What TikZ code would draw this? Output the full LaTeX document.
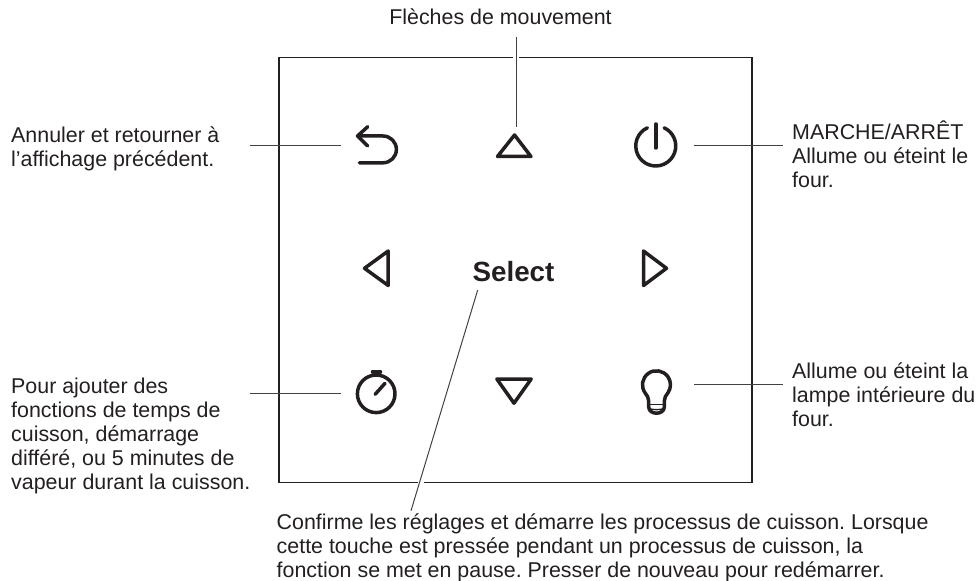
\documentclass[tikz,border=0pt]{standalone}
\usepackage{fontspec}
\setmainfont{Liberation Sans}
\definecolor{ink}{HTML}{231F20}
\newcommand{\tl}[1]{\begin{tabular}[t]{@{}l@{}}#1\end{tabular}}
\tikzset{
  px/.style={x=1bp,y=-1bp},
  frameline/.style={draw=ink,line width=1.2bp},
  leader/.style={draw=ink!85,line width=1bp},
  icon/.style={draw=ink,line width=3.5bp,line cap=round,line join=round},
  thinicon/.style={draw=ink,line width=1.4bp},
  lab/.style={font=\fontsize{21.4bp}{24bp}\selectfont\frenchspacing,text=ink,inner sep=0pt,anchor=base west}
}
\begin{document}
\begin{tikzpicture}[px]
\useasboundingbox (0,0) rectangle (977,581);
% frame with gaps where leaders cross
\coordinate (gapL) at (513.3,57.5);
\coordinate (gapR) at (518.7,57.5);
\coordinate (gapB1) at (417.5,482.5);
\coordinate (gapB2) at (423.5,482.5);
\draw[frameline] (gapL) -- (279,57.5) -- (279,482.5) -- (gapB1);
\draw[frameline] (gapB2) -- (752,482.5) -- (752,57.5) -- (gapR);
% labels
\node[lab,anchor=base] (t1) at (500.5,25) {Flèches de mouvement};
\node[lab] (t2) at (11,143) {\tl{Annuler et retourner à\\l’affichage précédent.}};
\node[lab] (t3) at (792,140) {\tl{MARCHE/ARRÊT\\Allume ou éteint le\\four.}};
\node[lab] (t4) at (11,393.5) {\tl{Pour ajouter des\\fonctions de temps de\\cuisson, démarrage\\différé, ou 5 minutes de\\vapeur durant la cuisson.}};
\node[lab] (t5) at (792,378.5) {\tl{Allume ou éteint la\\lampe intérieure du\\four.}};
\node[lab] (t6) at (276.5,529.5) {\tl{Confirme les réglages et démarre les processus de cuisson. Lorsque\\cette touche est pressée pendant un processus de cuisson, la\\fonction se met en pause. Presser de nouveau pour redémarrer.}};
\node[text=ink,inner sep=0pt,anchor=base,font=\fontsize{27.8bp}{30bp}\selectfont\bfseries] (sel) at (513.5,281.5) {Select};
% leader anchors
\coordinate (a1) at (516,36.7);
\coordinate (a2) at (516,126.7);
\coordinate (b1) at (250,145.5);
\coordinate (b2) at (340.7,145.5);
\coordinate (c1) at (694,145.5);
\coordinate (c2) at (783,145.5);
\coordinate (d1) at (250,393.5);
\coordinate (d2) at (340.7,393.5);
\coordinate (e1) at (694,384);
\coordinate (e2) at (783,384);
\coordinate (f1) at (477.7,290);
\coordinate (f2) at (411,510.7);
\draw[leader] (a1) -- (a2);
\draw[leader] (b1) -- (b2);
\draw[leader] (c1) -- (c2);
\draw[leader] (d1) -- (d2);
\draw[leader] (e1) -- (e2);
\draw[leader] (f1) -- (f2);
% triangles
\draw[icon] (514.5,135) -- (531,156.5) -- (497.5,156.5) -- cycle;
\draw[icon] (514,403.2) -- (531.2,379) -- (496.8,379) -- cycle;
\draw[icon] (364.5,268.3) -- (388.2,251) -- (388.2,285.5) -- cycle;
\draw[icon] (666.5,268.3) -- (643.5,251) -- (643.5,285.5) -- cycle;
% back
\draw[icon] (367.7,126.7) -- (357.5,136) -- (367.7,146);
\draw[icon] (357.5,136) -- (383,136) arc[start angle=90,end angle=-90,radius=13.4bp] -- (359.3,162.8);
% power
\draw[icon] (655.8,124) -- (655.8,148);
\draw[icon] (647.4,127.8) arc[start angle=114.7,end angle=425.3,radius=20bp];
% stopwatch
\draw[icon] (376.2,393.8) circle[radius=18.8bp];
\draw[icon] (372.5,371.8) -- (380.5,371.8);
\draw[icon] (375.2,394.3) -- (385,383.3);
% bulb
\draw[icon] (648.7,407) -- (648.7,401) .. controls (648.7,397.5) and (647,395.5) .. (645,392.8)
  arc[start angle=215,end angle=-35,radius=14bp]
  .. controls (666,395.5) and (664.3,397.5) .. (664.3,401) -- (664.3,407)
  .. controls (664.3,411) and (660.5,413.2) .. (656.5,413.2)
  .. controls (652.5,413.2) and (648.7,411) .. (648.7,407);
\draw[thinicon] (648.7,404.5) -- (664.3,404.5);
\draw[thinicon] (648.7,408.5) .. controls (652,410) and (661,410) .. (664.3,408.5);
\end{tikzpicture}
\end{document}
